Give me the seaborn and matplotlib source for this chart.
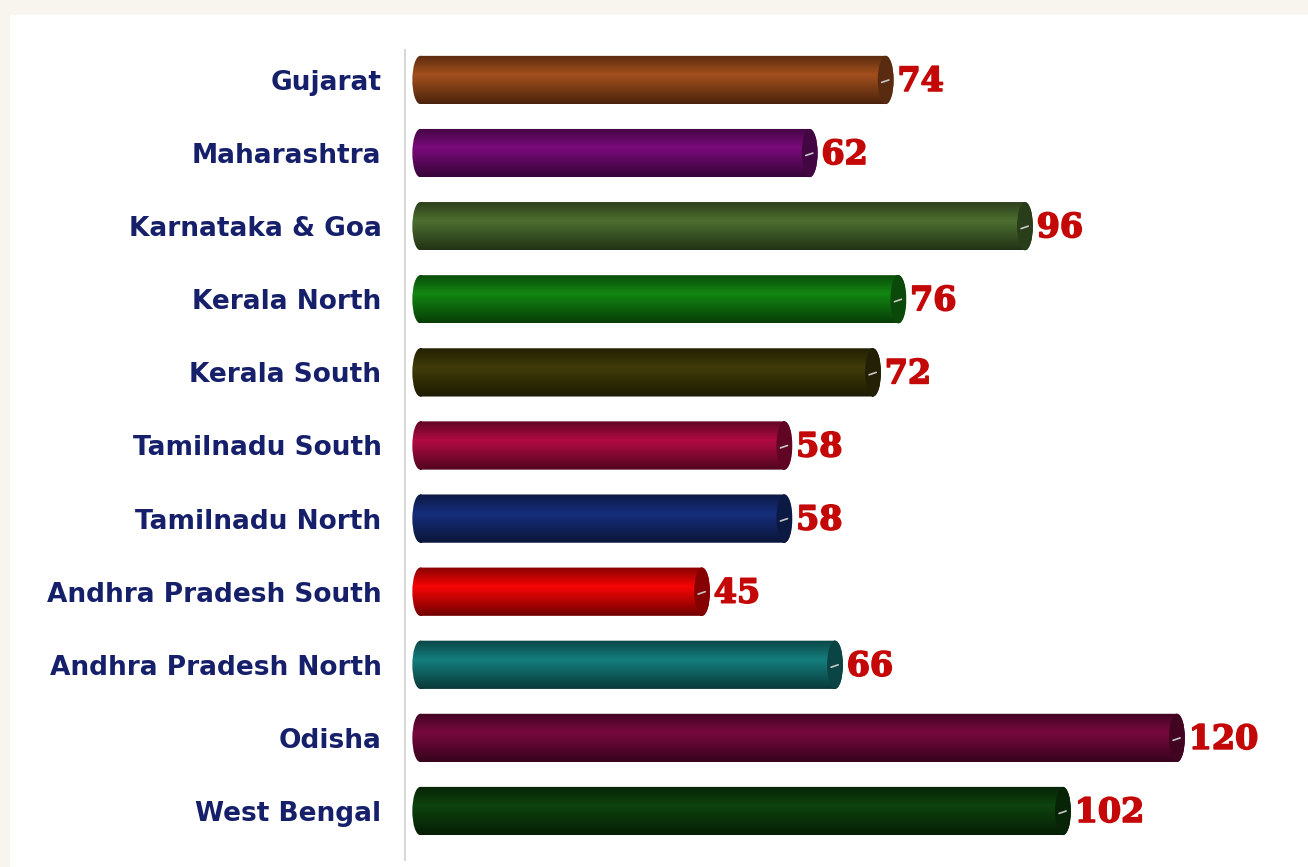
import numpy as np
import matplotlib
matplotlib.use("Agg")
import matplotlib.pyplot as plt
import matplotlib.patheffects as pe
import seaborn as sns
from matplotlib.patches import Rectangle, Ellipse
from matplotlib.path import Path
from matplotlib.transforms import Affine2D
from matplotlib.colors import to_rgb

# ------------------------------------------------------------
# Data
# ------------------------------------------------------------
states = [
    "Gujarat",
    "Maharashtra",
    "Karnataka & Goa",
    "Kerala North",
    "Kerala South",
    "Tamilnadu South",
    "Tamilnadu North",
    "Andhra Pradesh South",
    "Andhra Pradesh North",
    "Odisha",
    "West Bengal",
]
counts = [74, 62, 96, 76, 72, 58, 58, 45, 66, 120, 102]
bar_colors = [
    "#94481a",
    "#6e0a70",
    "#46652c",
    "#107a10",
    "#3a3608",
    "#a00a3c",
    "#142a70",
    "#e00404",
    "#137272",
    "#6c0838",
    "#0c3c0c",
]

sns.set_theme(style="white")
plt.rcParams["font.family"] = ["DejaVu Sans"]

fig = plt.figure(figsize=(13.08, 8.67), dpi=100)
fig.patch.set_facecolor("#f8f4ee")
# white panel behind the axes
fig.patches.append(
    Rectangle((10 / 1308, 0), 1 - 10 / 1308, 1 - 15 / 867,
              transform=fig.transFigure, facecolor="white",
              edgecolor="none", zorder=-5)
)

ax = fig.add_axes([405 / 1308, 7 / 867, 885 / 1308, 810 / 867])
ax.set_facecolor("none")

sns.barplot(
    x=counts,
    y=states,
    hue=states,
    palette=bar_colors,
    legend=False,
    orient="h",
    width=0.66,
    ax=ax,
)

# cylinder shading on each bar
cap_w = 2.5   # end-cap width in data units
lead = 2.0    # rounded base reaching left of zero
shade = np.concatenate([
    np.linspace(0.6, 1.1, 40),
    np.linspace(1.1, 0.5, 60),
])[:, None]

bars = list(ax.patches)
for patch, col in zip(bars, bar_colors):
    x0, y0 = patch.get_x() - lead, patch.get_y()
    w, h = patch.get_width() + lead, patch.get_height()
    base = np.array(to_rgb(col))
    img = np.clip(shade[:, :, None] * base[None, None, :], 0, 1)

    # rounded outline: body plus elliptic ends
    body = Path.unit_rectangle().transformed(
        Affine2D().scale(w - cap_w, h).translate(x0 + cap_w / 2, y0)
    )
    left = Ellipse((x0 + cap_w / 2, y0 + h / 2), cap_w, h)
    right = Ellipse((x0 + w - cap_w / 2, y0 + h / 2), cap_w, h)
    outline = Path.make_compound_path(
        body,
        left.get_path().transformed(left.get_patch_transform()),
        right.get_path().transformed(right.get_patch_transform()),
    )
    patch.set_visible(False)

    im = ax.imshow(img, extent=(x0, x0 + w, y0 + h, y0), aspect="auto",
                   interpolation="bilinear", zorder=2)
    im.set_clip_path(outline, ax.transData)

    # darker end face of the cylinder
    face = Ellipse((x0 + w - cap_w / 2, y0 + h / 2), cap_w, h,
                   facecolor=base * 0.6, edgecolor="none", zorder=3)
    ax.add_patch(face)
    ax.plot([x0 + w - cap_w * 0.75, x0 + w - cap_w * 0.3],
            [y0 + h * 0.55, y0 + h * 0.5], color="#c8c8c8", lw=1.2, zorder=3.5)

    ax.text(x0 + w + 0.6, y0 + h / 2 + 0.02, f"{patch.get_width():.0f}",
            va="center", ha="left", fontsize=24, fontweight="bold",
            color="#c40808", family="DejaVu Serif", zorder=4,
            path_effects=[pe.withStroke(linewidth=1.2, foreground="#c40808")])

ax.set_xlim(-3.16, 136.6)
ax.set_ylim(10.67, -0.41)

ax.set_xticks([])
ax.set_xlabel("")
ax.set_ylabel("")
ax.tick_params(axis="y", length=0, pad=17, labelsize=19, labelcolor="#16206a")
for lbl in ax.get_yticklabels():
    lbl.set_fontweight("bold")

for side in ["top", "right", "bottom"]:
    ax.spines[side].set_visible(False)
ax.spines["left"].set_color("#d8d8d8")
ax.spines["left"].set_linewidth(1.5)

plt.savefig("out.png", dpi=100)
plt.close()
